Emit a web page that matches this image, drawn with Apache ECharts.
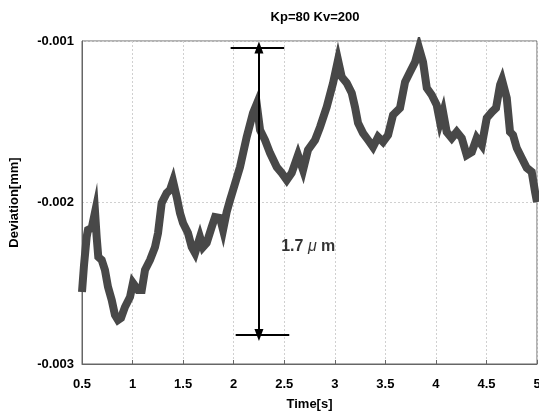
<!DOCTYPE html>
<html>
<head>
<meta charset="utf-8">
<script src="https://cdn.jsdelivr.net/npm/echarts@6/dist/echarts.min.js"></script>
<style>html,body{margin:0;padding:0;background:#fff;}#c{width:539px;height:419px;}</style>
</head>
<body>
<div id="c"></div>
<script>
// Time [s]
var times = [0.500,0.520,0.546,0.559,0.596,0.629,0.645,0.661,0.695,0.727,0.757,0.794,0.826,0.856,0.886,0.925,0.975,1.004,1.054,1.091,1.123,1.173,1.222,1.252,1.288,1.338,1.370,1.400,1.437,1.469,1.499,1.548,1.585,1.618,1.667,1.697,1.733,1.783,1.816,1.865,1.895,1.931,1.964,1.994,2.063,2.129,2.191,2.228,2.261,2.310,2.360,2.426,2.475,2.525,2.574,2.636,2.686,2.735,2.805,2.854,2.920,2.983,3.032,3.069,3.118,3.168,3.200,3.230,3.279,3.329,3.378,3.428,3.477,3.527,3.576,3.645,3.695,3.744,3.794,3.833,3.873,3.910,3.959,4.008,4.041,4.071,4.107,4.157,4.206,4.256,4.305,4.355,4.404,4.454,4.503,4.553,4.595,4.635,4.654,4.701,4.733,4.763,4.800,4.849,4.899,4.948,4.981,5.000];
// Deviation [mm]
var deviation = [-0.002554,-0.002387,-0.002214,-0.002170,-0.002158,-0.002059,-0.002214,-0.002337,-0.002356,-0.002418,-0.002523,-0.002604,-0.002697,-0.002728,-0.002715,-0.002647,-0.002585,-0.002498,-0.002542,-0.002542,-0.002418,-0.002356,-0.002276,-0.002189,-0.002003,-0.001941,-0.001923,-0.001867,-0.001966,-0.002065,-0.002127,-0.002189,-0.002276,-0.002313,-0.002214,-0.002276,-0.002251,-0.002152,-0.002090,-0.002096,-0.002170,-0.002059,-0.001985,-0.001923,-0.001780,-0.001594,-0.001446,-0.001390,-0.001551,-0.001613,-0.001694,-0.001780,-0.001817,-0.001861,-0.001817,-0.001706,-0.001799,-0.001675,-0.001613,-0.001533,-0.001409,-0.001260,-0.001118,-0.001223,-0.001260,-0.001322,-0.001409,-0.001508,-0.001570,-0.001613,-0.001656,-0.001594,-0.001625,-0.001582,-0.001458,-0.001415,-0.001254,-0.001192,-0.001130,-0.001043,-0.001130,-0.001291,-0.001334,-0.001396,-0.001502,-0.001440,-0.001563,-0.001601,-0.001563,-0.001601,-0.001706,-0.001687,-0.001601,-0.001644,-0.001477,-0.001440,-0.001415,-0.001272,-0.001241,-0.001353,-0.001563,-0.001582,-0.001663,-0.001724,-0.001786,-0.001811,-0.001935,-0.001997];
// Annotation (range arrow)
var arrowTime = 2.25;
var arrowTop = -0.00104;
var arrowBottom = -0.00282;
var topBarTimes = [1.97, 2.50];
var bottomBarTimes = [2.02, 2.55];
var annotationText = ['1.7', 'μ', 'm'];
var annotationPos = [2.47, -0.00227];

var FONT = "'Liberation Sans', Arial, sans-serif";
var lineData = times.map(function (t, i) { return [t, deviation[i]]; });

var chart = echarts.init(document.getElementById('c'), null, {renderer: 'canvas'});
chart.setOption({
  animation: false,
  backgroundColor: '#fff',
  title: {
    text: 'Kp=80 Kv=200',
    left: 310, top: 6, textAlign: 'center',
    textStyle: {fontFamily: FONT, fontSize: 13, fontWeight: 'bold', color: '#000'}
  },
  grid: {left: 82, right: 2, top: 41, bottom: 55, containLabel: false, outerBoundsMode: 'none',
    show: true, borderColor: '#666', borderWidth: 1, backgroundColor: 'transparent'},
  xAxis: {
    type: 'value', min: 0.5, max: 5, interval: 0.5,
    name: 'Time[s]', nameLocation: 'middle', nameGap: 34,
    nameTextStyle: {fontFamily: FONT, fontSize: 13, fontWeight: 'bold', color: '#000'},
    axisLine: {show: true, lineStyle: {color: '#666', width: 1}},
    axisTick: {show: true, inside: true, length: 4, lineStyle: {color: '#666'}},
    axisLabel: {fontFamily: FONT, fontSize: 13, fontWeight: 'bold', color: '#000', margin: 14},
    splitLine: {show: true, lineStyle: {color: '#d0d0d0', type: [2, 2], width: 1}}
  },
  yAxis: {
    type: 'value', min: -0.003, max: -0.001, interval: 0.001,
    name: 'Deviation[mm]', nameLocation: 'middle', nameGap: 61, nameRotate: 90,
    nameTextStyle: {fontFamily: FONT, fontSize: 13, fontWeight: 'bold', color: '#000'},
    axisLine: {show: true, lineStyle: {color: '#666', width: 1}},
    axisTick: {show: false},
    axisLabel: {fontFamily: FONT, fontSize: 13, fontWeight: 'bold', color: '#000', margin: 8,
      formatter: function (v) { return v.toFixed(3); }},
    splitLine: {show: true, lineStyle: {color: '#d0d0d0', type: [2, 2], width: 1}}
  },
  series: [
    {
      type: 'line', data: lineData, showSymbol: false, symbol: 'none',
      lineStyle: {color: '#484848', width: 8, join: 'miter'},
      z: 2
    },
    {
      type: 'line', data: [], symbol: 'none', z: 5,
      markLine: {
        silent: true, animation: false,
        label: {show: false},
        lineStyle: {color: '#000', width: 2, type: 'solid'},
        data: [
          [{coord: [arrowTime, arrowTop], symbol: 'triangle', symbolSize: [9, 12]},
           {coord: [arrowTime, arrowBottom], symbol: 'triangle', symbolSize: [9, 12]}],
          [{coord: [topBarTimes[0], arrowTop], symbol: 'none'},
           {coord: [topBarTimes[1], arrowTop], symbol: 'none'}],
          [{coord: [bottomBarTimes[0], arrowBottom], symbol: 'none'},
           {coord: [bottomBarTimes[1], arrowBottom], symbol: 'none'}]
        ]
      }
    },
    {
      type: 'scatter', data: [annotationPos], symbolSize: 0, z: 6, silent: true,
      label: {
        show: true, position: 'right', distance: 0,
        formatter: '{a|' + annotationText[0] + ' }{b|' + annotationText[1] + '}{a| ' + annotationText[2] + '}',
        rich: {
          a: {fontFamily: FONT, fontSize: 16, fontWeight: 'bold', color: '#000'},
          b: {fontFamily: FONT, fontSize: 16, fontStyle: 'italic', color: '#000'}
        }
      }
    }
  ]
});
</script>
</body>
</html>
